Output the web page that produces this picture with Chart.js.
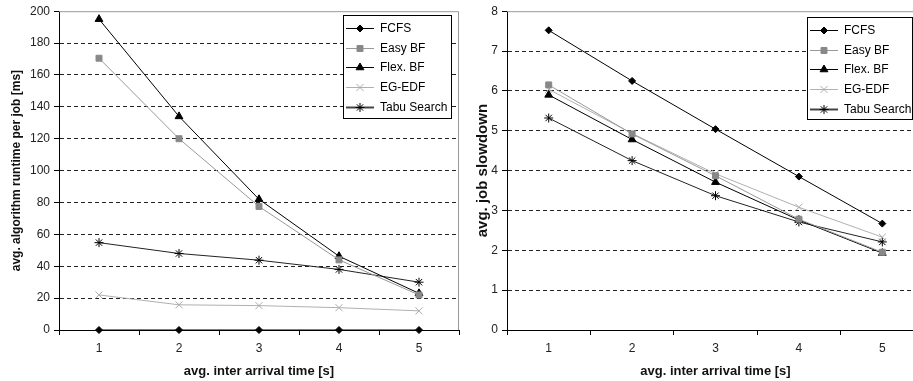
<!DOCTYPE html>
<html>
<head>
<meta charset="utf-8">
<script src="https://cdn.jsdelivr.net/npm/chart.js@4.4.0/dist/chart.umd.min.js"></script>
<style>
body { margin:0; background:#fff; }
#wrap { position:relative; width:913px; height:381px; overflow:hidden; background:#fff; }
#leftBox { position:absolute; left:0; top:0; width:465px; height:381px; }
#rightBox { position:absolute; left:465px; top:0; width:470px; height:381px; }
</style>
</head>
<body>
<div id="wrap">
    <div id="leftBox"><canvas id="runtimeChart" width="465" height="381"></canvas></div>
    <div id="rightBox"><canvas id="slowdownChart" width="470" height="381"></canvas></div>
</div>
<script>
// data
const arrivalTimes = ['1', '2', '3', '4', '5'];
const seriesNames = ['FCFS', 'Easy BF', 'Flex. BF', 'EG-EDF', 'Tabu Search'];

const runtimeFCFS  = [0, 0, 0, 0, 0];
const runtimeEasy  = [170.5, 120, 77.5, 44, 22];
const runtimeFlex  = [195, 134, 82, 46.3, 23];
const runtimeEGEDF = [22, 15.8, 15.3, 14, 12];
const runtimeTabu  = [54.8, 48, 43.8, 38, 30];

const slowFCFS  = [7.52, 6.25, 5.04, 3.85, 2.67];
const slowEasy  = [6.15, 4.92, 3.87, 2.78, 1.95];
const slowFlex  = [5.9, 4.78, 3.71, 2.76, 1.93];
const slowEGEDF = [6.04, 4.93, 3.92, 3.08, 2.33];
const slowTabu  = [5.32, 4.25, 3.37, 2.71, 2.21];

const runtimeTicks = { min: 0, max: 200, step: 20 };
const slowTicks = { min: 0, max: 8, step: 1 };

const FONT = '"Liberation Sans", Arial, sans-serif';

// look of each series: line colour, marker
const looks = [
    { line: '#000', width: 1, legendLine: '#000', legendWidth: 1, point: 'rectRot', r: 3.5, fill: '#000', stroke: '#000' },
    { line: '#999', width: 1, legendLine: '#999', legendWidth: 1, point: 'rect', r: 4.2, fill: '#888', stroke: '#888' },
    { line: '#000', width: 1, legendLine: '#000', legendWidth: 1, point: 'triangle', r: 4.5, fill: '#000', stroke: '#000' },
    { line: '#b0b0b0', width: 1, legendLine: '#b0b0b0', legendWidth: 1, point: 'crossRot', r: 5, fill: '#aaa', stroke: '#aaa' },
    { line: '#222', width: 1, legendLine: '#444', legendWidth: 2, point: 'star', r: 4.5, fill: '#000', stroke: '#000' }
];

function MakeSets(values){
    return values.map(function(v, i){
        let lk = looks[i];
        return {
            label: seriesNames[i],
            data: v,
            borderColor: lk.line,
            borderWidth: lk.width,
            backgroundColor: lk.fill,
            pointStyle: lk.point,
            pointRadius: lk.r,
            pointBackgroundColor: lk.fill,
            pointBorderColor: lk.stroke,
            pointBorderWidth: 1,
            tension: 0,
            clip: false
        };
    });
}

function DrawMarker(ctx, lk, x, y){
    ctx.save();
    ctx.fillStyle = lk.fill;
    ctx.strokeStyle = lk.stroke;
    ctx.lineWidth = 1;
    if (Chart.helpers && Chart.helpers.drawPoint) {
        Chart.helpers.drawPoint(ctx, { pointStyle: lk.point, radius: lk.r, rotation: 0, borderWidth: 1 }, x, y);
    }
    ctx.restore();
}

// grey frame on top/right and the boxed legend inside the plot
const frameLegend = {
    id: 'frameLegend',
    beforeDatasetsDraw(chart){
        let a = chart.chartArea, ctx = chart.ctx;
        ctx.save();
        ctx.strokeStyle = '#999';
        ctx.lineWidth = 1;
        ctx.beginPath();
        ctx.moveTo(a.left, a.top + 0.5);
        ctx.lineTo(a.right - 0.5, a.top + 0.5);
        ctx.lineTo(a.right - 0.5, a.bottom);
        ctx.stroke();
        ctx.restore();
    },
    afterDraw(chart, args, opts){
        let ctx = chart.ctx;
        let x = opts.x, y = opts.y, w = opts.w, h = opts.h;
        ctx.save();
        ctx.fillStyle = '#fff';
        ctx.fillRect(x, y, w, h);
        ctx.strokeStyle = '#000';
        ctx.lineWidth = 1;
        ctx.strokeRect(x + 0.5, y + 0.5, w, h);
        ctx.font = '12px ' + FONT;
        ctx.textBaseline = 'middle';
        chart.data.datasets.forEach(function(ds, i){
            let lk = looks[i];
            let cy = Math.round(y + 13 + i * 19.7) + 0.5;
            ctx.strokeStyle = lk.legendLine;
            ctx.lineWidth = lk.legendWidth;
            ctx.beginPath();
            ctx.moveTo(x + 3, cy);
            ctx.lineTo(x + 31, cy);
            ctx.stroke();
            DrawMarker(ctx, lk, x + 17, cy);
            ctx.fillStyle = '#000';
            ctx.fillText(ds.label, x + 37, cy + 0.5);
        });
        ctx.restore();
    }
};

function MakeChart(id, values, tk, yTitle, yTitleSize, yWidth, pad, legendBox){
    const ctx = document.getElementById(id).getContext('2d');
    return new Chart(ctx, {
        type: 'line',
        data: {
            labels: arrivalTimes,
            datasets: MakeSets(values)
        },
        plugins: [frameLegend],
        options: {
            responsive: false,
            animation: false,
            devicePixelRatio: 1,
            layout: { padding: pad },
            plugins: {
                legend: { display: false },
                tooltip: { enabled: false },
                frameLegend: legendBox
            },
            scales: {
                x: {
                    type: 'category',
                    offset: true,
                    border: { display: true, color: '#000', width: 1 },
                    grid: {
                        offset: true,
                        drawOnChartArea: false,
                        drawTicks: true,
                        tickLength: 5,
                        tickColor: '#000'
                    },
                    ticks: { color: '#222', font: { family: FONT, size: 12 }, padding: 6, maxRotation: 0 },
                    title: {
                        display: true,
                        text: 'avg. inter arrival time [s]',
                        color: '#111',
                        font: { family: FONT, size: 13, weight: 'bold' },
                        padding: { top: 0, bottom: 2 }
                    },
                    afterFit: function(scale){ scale.height = 51; }
                },
                y: {
                    min: tk.min,
                    max: tk.max,
                    border: { display: true, color: '#000', width: 1, dash: [4, 3] },
                    grid: {
                        color: function(c){
                            if (c.tick && (c.tick.value === tk.min || c.tick.value === tk.max)) return 'rgba(0,0,0,0)';
                            return '#222';
                        },
                        tickBorderDash: [],
                        tickColor: '#000',
                        tickLength: 5,
                        lineWidth: 1
                    },
                    ticks: { stepSize: tk.step, color: '#222', font: { family: FONT, size: 12 }, padding: 4 },
                    title: {
                        display: true,
                        text: yTitle,
                        color: '#111',
                        font: { family: FONT, size: yTitleSize, weight: 'bold' },
                        padding: { top: 9, bottom: 0 }
                    },
                    afterFit: function(scale){ scale.width = yWidth; }
                }
            }
        }
    });
}

MakeChart('runtimeChart',
    [runtimeFCFS, runtimeEasy, runtimeFlex, runtimeEGEDF, runtimeTabu],
    runtimeTicks, 'avg. algorithm runtime per job [ms]', 12, 59,
    { top: 11, right: 3, bottom: 0, left: 0 },
    { x: 343, y: 15, w: 108, h: 103 });

MakeChart('slowdownChart',
    [slowFCFS, slowEasy, slowFlex, slowEGEDF, slowTabu],
    slowTicks, 'avg. job slowdown', 15, 42,
    { top: 10, right: 11, bottom: 0, left: 0 },
    { x: 342, y: 17, w: 105, h: 102 });
</script>
</body>
</html>
